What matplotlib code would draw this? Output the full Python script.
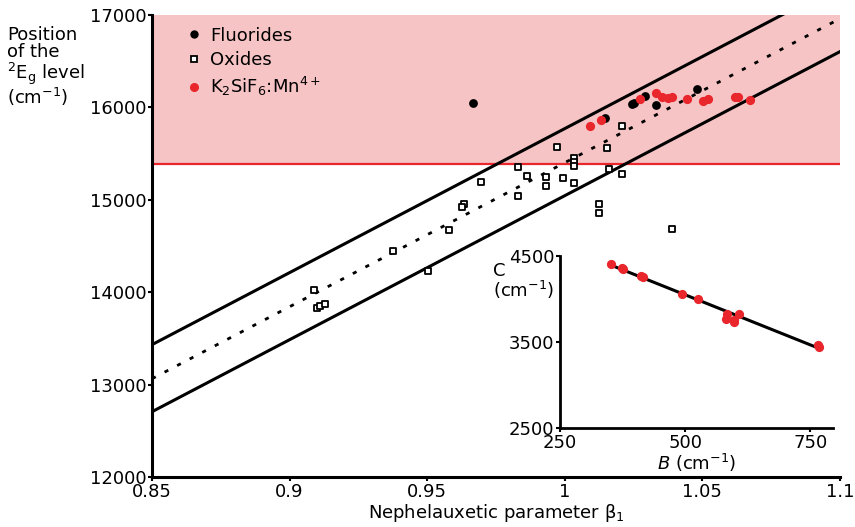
import numpy as np
import matplotlib
matplotlib.use("Agg")
import matplotlib.pyplot as plt
from matplotlib.lines import Line2D

# nephelauxetic parameter beta_1 and 2Eg energy (cm-1)
fluoride_beta = [0.9666, 1.0146, 1.0243, 1.0253, 1.0291, 1.0331, 1.0479]
fluoride_E = [16048, 15882, 16037, 16051, 16127, 16026, 16199]

oxide_beta = [0.9971, 1.0155, 1.0207, 1.0035, 1.0035, 1.0035, 0.9831, 0.9864,
              0.9932, 0.9932, 0.9995, 1.0035, 1.0161, 1.0209, 0.9695, 0.9829,
              1.0124, 1.0124, 0.9635, 0.9625, 0.9580, 0.9377, 0.9502, 0.9087,
              0.9101, 0.9110, 0.9128, 1.0390]
oxide_E = [15568, 15557, 15802, 15456, 15412, 15366, 15358, 15258,
           15244, 15149, 15239, 15185, 15333, 15276, 15189, 15044,
           14951, 14860, 14955, 14919, 14673, 14446, 14229, 14026,
           13826, 13853, 13872, 14684]

ksf_beta = [1.0092, 1.0130, 1.0273, 1.0331, 1.0352, 1.0376, 1.0388, 1.0443,
            1.0501, 1.0519, 1.0618, 1.0628, 1.0673]
ksf_E = [15802, 15864, 16088, 16159, 16109, 16098, 16109, 16091,
         16073, 16091, 16116, 16116, 16080]

# linear trend E = slope * beta + intercept, with +/- band
fit_slope = 15590
fit_intercept = -188
band_upper = 369
band_lower = -357

# red emission threshold
threshold_E = 15390

# Racah parameters B and C for K2SiF6:Mn4+
racah_B = [351, 373, 376, 412, 416, 493, 525, 583, 582, 598, 598, 608, 766, 767]
racah_C = [4404, 4354, 4346, 4265, 4250, 4056, 3995, 3824, 3763, 3732, 3755,
           3824, 3465, 3439]
bc_slope = -2.32
bc_intercept = 5207

RED = "#e8262b"
PINK = "#f7c4c5"

fig = plt.figure(figsize=(8.55, 5.27), dpi=100)
ax = fig.add_axes([0.1778, 0.0949, 0.8047, 0.8766])

ax.axhspan(threshold_E, 17000, color=PINK, lw=0, zorder=0)
ax.axhline(threshold_E, color=RED, lw=1.6, zorder=1)

xs = np.array([0.85, 1.1])
mid = fit_slope * xs + fit_intercept
ax.plot(xs, mid, color="black", lw=2, ls=(0, (1.5, 3.6)), zorder=2)
ax.plot(xs, mid + band_upper, color="black", lw=2.2, zorder=2)
ax.plot(xs, mid + band_lower, color="black", lw=2.2, zorder=2)

ax.scatter(oxide_beta, oxide_E, marker="s", s=24, facecolor="white",
           edgecolor="black", linewidth=1.3, zorder=3)
ax.scatter(fluoride_beta, fluoride_E, marker="o", s=40, color="black",
           lw=0, zorder=4)
ax.scatter(ksf_beta, ksf_E, marker="o", s=44, color=RED, lw=0, zorder=5)

ax.set_xlim(0.85, 1.1)
ax.set_ylim(12000, 17000)
ax.set_xticks([0.85, 0.9, 0.95, 1.0, 1.05, 1.1])
ax.set_xticklabels(["0.85", "0.9", "0.95", "1", "1.05", "1.1"])
ax.set_yticks(range(12000, 17001, 1000))
for side in ["top", "right"]:
    ax.spines[side].set_visible(False)
for side in ["left", "bottom"]:
    ax.spines[side].set_linewidth(2.2)
ax.tick_params(labelsize=13, length=3, width=1.5, pad=1)
ax.set_xlabel(r"Nephelauxetic parameter β$_1$", fontsize=13, labelpad=1)

fig.text(0.008, 0.951, "Position\nof the\n$^2$E$_\\mathrm{g}$ level\n(cm$^{-1}$)",
         fontsize=13, ha="left", va="top", linespacing=0.95)

handles = [
    Line2D([], [], ls="", marker="o", color="black", markersize=5),
    Line2D([], [], ls="", marker="s", mfc="white", mec="black", mew=1.3, markersize=4.5),
    Line2D([], [], ls="", marker="o", color=RED, markersize=5.5),
]
labels = ["Fluorides", "Oxides", "K$_2$SiF$_6$:Mn$^{4+}$"]
ax.legend(handles, labels, loc="upper left", bbox_to_anchor=(0.024, 1.01),
          frameon=False, fontsize=13, handlelength=1, handletextpad=0.4,
          labelspacing=0.35)

# inset: C versus B
ins = fig.add_axes([0.655, 0.1873, 0.319, 0.3275])
ins.patch.set_alpha(0)
bx = np.array([min(racah_B), max(racah_B)])
ins.plot(bx, bc_slope * bx + bc_intercept, color="black", lw=2.2, zorder=2)
ins.scatter(racah_B, racah_C, s=44, color=RED, lw=0, zorder=3)
ins.set_xlim(250, 795)
ins.set_ylim(2500, 4500)
ins.set_xticks([250, 500, 750])
ins.set_yticks([2500, 3500, 4500])
for side in ["top", "right"]:
    ins.spines[side].set_visible(False)
for side in ["left", "bottom"]:
    ins.spines[side].set_linewidth(2)
ins.tick_params(labelsize=13, length=3, width=1.5, pad=1)
ins.set_xlabel(r"$B$ (cm$^{-1}$)", fontsize=13, labelpad=0)
fig.text(493 / 855, 1 - 262 / 527, "C\n(cm$^{-1}$)", fontsize=13,
         ha="left", va="top", linespacing=0.95)

fig.savefig("out.png", dpi=100)
